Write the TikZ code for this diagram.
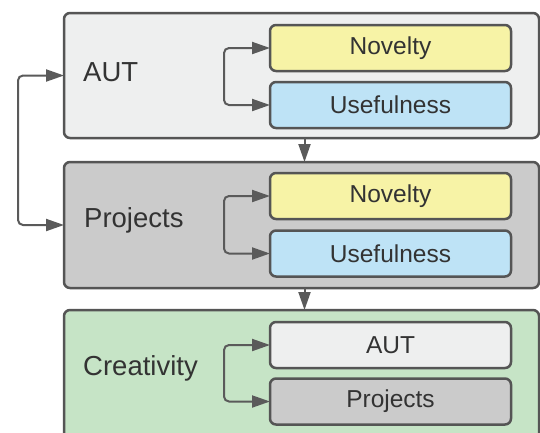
\documentclass[tikz,border=0pt]{standalone}
\usepackage{fontspec}
\setmainfont{Liberation Sans}
\usetikzlibrary{arrows.meta,calc}
\definecolor{bordc}{HTML}{555555}
\definecolor{arrc}{HTML}{5A5A5A}
\definecolor{txtc}{HTML}{333333}
\definecolor{lgray}{HTML}{EEEFEF}
\definecolor{mgray}{HTML}{CBCBCB}
\definecolor{lgreen}{HTML}{C6E4C6}
\definecolor{lyellow}{HTML}{F7F3A6}
\definecolor{lblue}{HTML}{BEE3F6}
\tikzset{
  outerbox/.style={draw=bordc, line width=2.5pt, rounded corners=6pt, minimum width=475pt, inner sep=0pt, outer sep=0pt},
  innerbox/.style={draw=bordc, line width=2.5pt, rounded corners=6pt, minimum width=241pt, minimum height=46pt, inner sep=0pt, outer sep=0pt, text=txtc, font=\fontsize{24.5}{28}\selectfont},
  lbl/.style={anchor=west, text=txtc, inner sep=0pt, font=\fontsize{27.5}{32}\selectfont},
  conn/.style={draw=arrc, line width=2pt, rounded corners=5pt},
  tip/.style={-{Triangle[length=18pt,width=12pt]}},
  dtip/.style={{Triangle[length=18pt,width=12pt]}-{Triangle[length=18pt,width=12pt]}}
}
\begin{document}
\begin{tikzpicture}[x=1pt,y=-1pt]
\useasboundingbox (0,0) rectangle (540,432);
\clip (0,0) rectangle (540,432);
\fill[white] (0,0) rectangle (540,432);
% outer boxes
\node[outerbox, fill=lgray, minimum height=125pt] (b1) at (301.5,75.5) {};
\node[outerbox, fill=mgray, minimum height=126pt] (b2) at (301.5,225) {};
\node[outerbox, fill=lgreen, minimum height=150pt] (b3) at (301.5,385) {};
% labels
\node[lbl] (l1) at (83,72) {AUT};
\node[lbl] (l2) at (84,220) {Projects};
\node[lbl] (l3) at (83,368) {Creativity};
% inner boxes
\node[innerbox, fill=lyellow] (n1) at (390.5,48) {Novelty};
\node[innerbox, fill=lblue] (u1) at (390.5,105) {Usefulness};
\node[innerbox, fill=lyellow] (n2) at (390.5,196) {Novelty};
\node[innerbox, fill=lblue] (u2) at (390.5,253.5) {Usefulness};
\node[innerbox, fill=lgray] (a3) at (390.5,345) {AUT};
\node[innerbox, fill=mgray] (p3) at (390.5,401.5) {Projects};
% inner brackets
\draw[conn, dtip] (n1.west) -- ++(-46,0) |- (u1.west);
\draw[conn, dtip] (n2.west) -- ++(-46,0) |- (u2.west);
\draw[conn, dtip] (a3.west) -- ++(-46,0) |- (p3.west);
% left loop
\draw[conn, dtip] (b1.west) -- ++(-46,0) |- (b2.west);
% vertical arrows
\coordinate (d1) at ($(b1.south)+(3,0)$);
\coordinate (d2) at ($(b2.south)+(3,0)$);
\draw[conn, tip] (d1) -- (d1 |- b2.north);
\draw[conn, tip] (d2) -- (d2 |- b3.north);
\end{tikzpicture}
\end{document}
